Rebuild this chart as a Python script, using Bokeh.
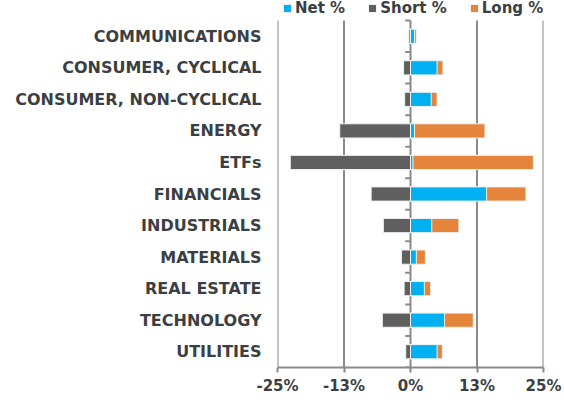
from bokeh.plotting import figure
from bokeh.models import Range1d, FixedTicker, Legend, LegendItem, ColumnDataSource
from bokeh.embed import file_html
from bokeh.resources import INLINE

categories = ["COMMUNICATIONS", "CONSUMER, CYCLICAL", "CONSUMER, NON-CYCLICAL", "ENERGY",
              "ETFs", "FINANCIALS", "INDUSTRIALS", "MATERIALS", "REAL ESTATE",
              "TECHNOLOGY", "UTILITIES"]
net_pct = [0.75, 5.0, 3.9, 0.75, 0.45, 14.3, 4.0, 1.1, 2.6, 6.4, 5.0]
short_pct = [-0.3, -1.3, -1.1, -13.3, -22.6, -7.4, -5.1, -1.7, -1.2, -5.3, -0.9]
long_pct = [1.1, 6.1, 5.0, 14.0, 23.1, 21.7, 9.1, 2.8, 3.8, 11.8, 6.0]
x_ticks = [-25, -12.5, 0, 12.5, 25]
x_tick_labels = ["-25%", "-13%", "0%", "13%", "25%"]

BLUE = "#00B0F0"
GRAY = "#5F5F5F"
ORANGE = "#E5843B"
LINE = "#8A8A8A"
TEXT = "#3B3F43"
FONT = "DejaVu Sans"

n = len(categories)
ypos = list(range(n))
src = ColumnDataSource(dict(y=ypos, net=net_pct, short=short_pct, long=long_pct,
                            zero=[0] * n))

# layout (pixels): frame spans whole top so the legend above the bars is not clipped
W, H = 564, 400
FL, FW = 277, 266
PLOT_TOP, PLOT_H = 20, 347          # where the category area starts / its height
FH = PLOT_TOP + PLOT_H
extra = PLOT_TOP * n / PLOT_H        # empty band above the categories, in category units

p = figure(width=W, height=H, output_backend="svg", toolbar_location=None,
           x_range=Range1d(-25, 25), y_range=Range1d(n - 0.5, -0.5 - extra),
           min_border_left=FL, min_border_right=W - FL - FW,
           min_border_top=0, min_border_bottom=H - FH)
p.outline_line_color = None
p.background_fill_color = "white"
p.xgrid.grid_line_color = None
p.ygrid.grid_line_color = None

# vertical gridlines and the zero axis line, limited to the category area
p.segment(x0=x_ticks, x1=x_ticks, y0=[-0.5] * len(x_ticks), y1=[n - 0.5] * len(x_ticks),
          line_color=LINE, line_width=2)

r_long = p.hbar(y="y", left="zero", right="long", height=0.45, source=src,
                fill_color=ORANGE, line_color="#F2F2F2", line_width=1)
r_short = p.hbar(y="y", left="short", right="zero", height=0.45, source=src,
                 fill_color=GRAY, line_color="#F2F2F2", line_width=1)
r_net = p.hbar(y="y", left="zero", right="net", height=0.45, source=src,
               fill_color=BLUE, line_color="#F2F2F2", line_width=1)

# zero axis tick marks at category boundaries
bounds = [i - 0.5 for i in range(n + 1)]
p.segment(x0=[-1.0] * len(bounds), x1=[0] * len(bounds), y0=bounds, y1=bounds,
          line_color=LINE, line_width=2)

# x axis
xa = p.xaxis[0]
xa.ticker = FixedTicker(ticks=x_ticks)
xa.major_label_overrides = {t: l for t, l in zip(x_ticks, x_tick_labels)}
xa.axis_line_color = LINE
xa.axis_line_width = 2
xa.major_tick_line_color = LINE
xa.major_tick_line_width = 2
xa.major_tick_in = 0
xa.major_tick_out = 5
xa.minor_tick_line_color = None
xa.major_label_text_font = FONT
xa.major_label_text_font_style = "bold"
xa.major_label_text_font_size = "15px"
xa.major_label_text_color = TEXT
xa.major_label_standoff = 4

# y axis (category labels)
ya = p.yaxis[0]
ya.ticker = FixedTicker(ticks=ypos)
ya.major_label_overrides = {i: c for i, c in enumerate(categories)}
ya.axis_line_color = None
ya.major_tick_line_color = None
ya.minor_tick_line_color = None
ya.major_label_text_font = FONT
ya.major_label_text_font_style = "bold"
ya.major_label_text_font_size = "16px"
ya.major_label_text_color = TEXT
ya.major_label_standoff = 10

legend = Legend(items=[LegendItem(label="Net %", renderers=[r_net]),
                       LegendItem(label="Short %", renderers=[r_short]),
                       LegendItem(label="Long %", renderers=[r_long])],
                orientation="horizontal", location=(5, FH - 17),
                label_text_font=FONT, label_text_font_style="bold",
                label_text_font_size="15px", label_text_color=TEXT,
                glyph_width=10, glyph_height=10, label_standoff=3, spacing=22,
                label_height=16, padding=0, margin=0, border_line_color=None,
                background_fill_alpha=0)
p.add_layout(legend, "center")

open("out.html", "w").write(file_html(p, INLINE))
